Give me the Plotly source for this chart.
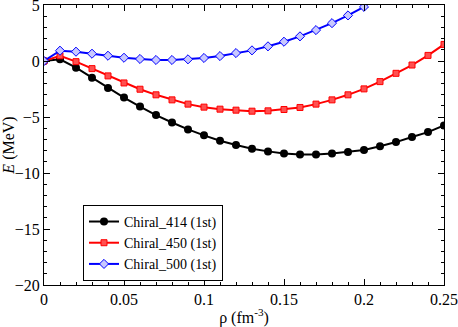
import plotly.graph_objects as go

rho = [0.00, 0.01, 0.02, 0.03, 0.04, 0.05, 0.06, 0.07, 0.08, 0.09, 0.10, 0.11, 0.12,
       0.13, 0.14, 0.15, 0.16, 0.17, 0.18, 0.19, 0.20, 0.21, 0.22, 0.23, 0.24, 0.25]
chiral_414 = [0.0, 0.15, -0.6, -1.5, -2.4, -3.27, -4.07, -4.83, -5.49, -6.11, -6.64, -7.12, -7.5,
              -7.83, -8.07, -8.25, -8.34, -8.34, -8.25, -8.13, -7.95, -7.62, -7.24, -6.79, -6.35, -5.76]
chiral_450 = [0.0, 0.47, -0.06, -0.68, -1.33, -1.96, -2.52, -3.02, -3.47, -3.85, -4.12, -4.3, -4.39,
              -4.48, -4.45, -4.33, -4.15, -3.85, -3.47, -3.02, -2.49, -1.84, -1.1, -0.36, 0.5, 1.48]
rho_500 = rho[:21]
chiral_500 = [0.0, 0.92, 0.83, 0.65, 0.47, 0.29, 0.18, 0.09, 0.09, 0.15, 0.27, 0.44, 0.71,
              0.95, 1.31, 1.72, 2.2, 2.76, 3.38, 4.07, 4.83]

font = "Liberation Serif"

fig = go.Figure()
fig.add_trace(go.Scatter(x=rho, y=chiral_414, mode="lines+markers", name="Chiral_414 (1st)",
                         line=dict(color="black", width=2),
                         marker=dict(symbol="circle", size=8, color="black")))
fig.add_trace(go.Scatter(x=rho, y=chiral_450, mode="lines+markers", name="Chiral_450 (1st)",
                         line=dict(color="#ff0000", width=2),
                         marker=dict(symbol="square", size=6, color="#ff5050",
                                     line=dict(color="#ff0000", width=1))))
fig.add_trace(go.Scatter(x=rho_500, y=chiral_500, mode="lines+markers", name="Chiral_500 (1st)",
                         line=dict(color="#0000ff", width=2),
                         marker=dict(symbol="diamond", size=7, color="#c8c8ff",
                                     line=dict(color="#0000ff", width=1))))

axis_common = dict(showgrid=False, zeroline=False, showline=True, linecolor="black", linewidth=1,
                   mirror="allticks", ticks="inside", ticklen=6, tickcolor="black",
                   automargin=False, ticklabeloverflow="allow",
                   tickfont=dict(family=font, size=16, color="black"))

fig.update_xaxes(range=[0, 0.25], tickvals=[0, 0.05, 0.1, 0.15, 0.2, 0.25],
                 ticktext=["0", "0.05", "0.1", "0.15", "0.2", "0.25"],
                 minor=dict(dtick=0.01, ticks="inside", ticklen=3, tickcolor="black"),
                 title=dict(text="ρ (fm<sup>-3</sup>)", font=dict(family=font, size=16, color="black"),
                            standoff=6),
                 **axis_common)
fig.update_yaxes(range=[-20, 5], tickvals=[-20, -15, -10, -5, 0, 5],
                 minor=dict(dtick=1, ticks="inside", ticklen=3, tickcolor="black"),
                 title=dict(text="<i>E</i> (MeV)", font=dict(family=font, size=16, color="black"),
                            standoff=2),
                 **axis_common)

fig.update_layout(width=458, height=327, margin=dict(l=44, r=14, t=5, b=42, autoexpand=False),
                  paper_bgcolor="white", plot_bgcolor="white",
                  font=dict(family=font, size=16, color="black"),
                  legend=dict(x=0.0975, y=0.286, xanchor="left", yanchor="top",
                              bgcolor="white", bordercolor="black", borderwidth=1,
                              font=dict(family=font, size=14, color="black"),
                              tracegroupgap=0, itemwidth=30))

fig.write_html("out.html", config={"displayModeBar": False},
               post_script="document.body.style.margin='0';document.body.style.overflow='hidden';")
